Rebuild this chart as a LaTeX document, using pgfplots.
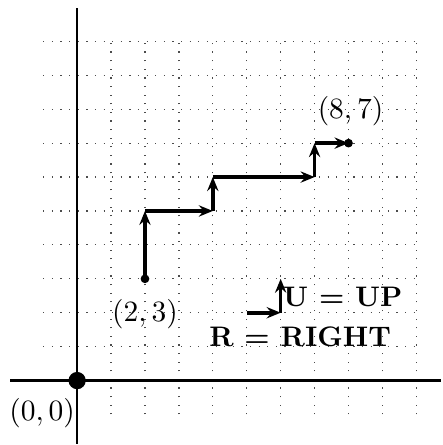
\documentclass[border=0pt]{standalone}
\usepackage{pgfplots}
\pgfplotsset{compat=1.18}
\usetikzlibrary{arrows.meta}
\begin{document}
\begin{tikzpicture}[every node/.style={font=\fontsize{10.5pt}{12pt}\selectfont}]
\begin{axis}[
  scale only axis, width=163.8pt, height=164.9pt,
  xmin=-2.274, xmax=10.726, ymin=-1.868, ymax=11.22,
  hide axis, clip=false,
  arr/.style={black, line width=1.35pt, -{Stealth[length=5.2pt, width=4.2pt, inset=1.8pt]}},
  grd/.style={black!70, line width=0.45pt, dash pattern=on 0.45pt off 2.75pt},
]
\addplot[draw=none] coordinates {(-2.274,-1.868) (10.726,11.22)};
\pgfplotsinvokeforeach{1,...,10}{
  \addplot[grd] coordinates {(#1,-1) (#1,10)};
  \addplot[grd] coordinates {(-1,#1) (10,#1)};
}
% axes
\addplot[black, line width=0.8pt] coordinates {(-1.97,0) (10.726,0)};
\addplot[black, line width=0.8pt] coordinates {(0,-1.868) (0,10.97)};
% lattice path
\addplot[arr] coordinates {(2,3) (2,5)};
\addplot[arr] coordinates {(2,5) (4,5)};
\addplot[arr] coordinates {(4,5) (4,6)};
\addplot[arr] coordinates {(4,6) (7,6)};
\addplot[arr] coordinates {(7,6) (7,7)};
\addplot[arr] coordinates {(7,7) (8,7)};
% legend arrows
\addplot[arr] coordinates {(5,2) (6,2)};
\addplot[arr, line width=0.9pt] coordinates {(6,2) (6,3)};
% points
\addplot[black, only marks, mark=*, mark size=1.4pt] coordinates {(2,3) (8,7)};
\addplot[black, only marks, mark=*, mark size=3pt] coordinates {(0,0)};
% labels
\node at (axis cs:8.06,7.95) {$(8,7)$};
\node at (axis cs:2.0,1.97) {$(2,3)$};
\node at (axis cs:-1.03,-0.95) {$(0,0)$};
\node[anchor=base west, inner sep=0pt] at (axis cs:6.06,2.19) {\textbf{U = UP}};
\node[anchor=base west, inner sep=0pt] at (axis cs:3.88,1.0) {\textbf{R = RIGHT}};
\end{axis}
\end{tikzpicture}
\end{document}
